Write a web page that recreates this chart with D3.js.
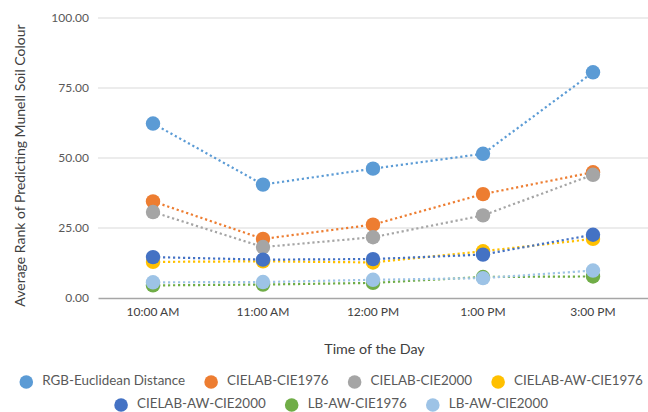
<!DOCTYPE html>
<html>
<head>
<meta charset="utf-8">
<script src="https://cdnjs.cloudflare.com/ajax/libs/d3/7.8.5/d3.min.js"></script>
<style>
  html, body { margin: 0; padding: 0; background: #fff; }
  svg { display: block; }
  text { font-family: Lato, "Open Sans", sans-serif; }
</style>
</head>
<body>
<svg id="chart" width="648" height="412"></svg>
<script>
// Times of day on the horizontal axis
const times = ["10:00 AM", "11:00 AM", "12:00 PM", "1:00 PM", "3:00 PM"];
const yTicks = [0, 25, 50, 75, 100];

// Average rank per colour-difference method
const seriesNames = [
  "RGB-Euclidean Distance", "CIELAB-CIE1976", "CIELAB-CIE2000",
  "CIELAB-AW-CIE1976", "CIELAB-AW-CIE2000", "LB-AW-CIE1976", "LB-AW-CIE2000"
];
const rgbEuclidean   = [62.3, 40.5, 46.2, 51.5, 80.6];
const cielab1976     = [34.5, 21.1, 26.2, 37.1, 44.9];
const cielab2000     = [30.7, 18.2, 21.7, 29.5, 44.0];
const cielabAw1976   = [12.9, 13.1, 12.7, 16.7, 21.1];
const cielabAw2000   = [14.6, 13.7, 13.9, 15.5, 22.6];
const lbAw1976       = [4.5, 4.8, 5.4, 7.5, 7.7];
const lbAw2000       = [5.6, 5.7, 6.5, 7.1, 9.8];
const seriesColors = ["#5B9BD5", "#ED7D31", "#A5A5A5", "#FFC000", "#4472C4", "#70AD47", "#9DC3E6"];

const seriesValues = [rgbEuclidean, cielab1976, cielab2000, cielabAw1976, cielabAw2000, lbAw1976, lbAw2000];
const series = seriesNames.map((name, i) => ({ name, color: seriesColors[i], values: seriesValues[i] }));

const svg = d3.select("#chart");
const plot = { left: 98, right: 648, top: 18, bottom: 298 };

const x = d3.scaleBand().domain(times).range([plot.left, plot.right]);
const y = d3.scaleLinear().domain([0, 100]).range([plot.bottom, plot.top]);

// Horizontal gridlines
svg.append("g")
  .selectAll("line")
  .data(yTicks.filter(d => d > 0))
  .join("line")
  .attr("x1", plot.left).attr("x2", plot.right)
  .attr("y1", d => y(d)).attr("y2", d => y(d))
  .attr("stroke", "#D9D9D9").attr("stroke-width", 1);

// Y axis labels
const yAxis = svg.append("g")
  .attr("transform", `translate(${plot.left - 6},0)`)
  .call(d3.axisLeft(y).tickValues(yTicks).tickFormat(d3.format(".2f")).tickSize(0));
yAxis.select(".domain").remove();
yAxis.selectAll("text")
  .attr("fill", "#595959").attr("font-size", 12).attr("dx", 0);

// X axis with baseline
const xAxis = svg.append("g")
  .attr("transform", `translate(0,${plot.bottom})`)
  .call(d3.axisBottom(x).tickSize(0).tickPadding(9));
xAxis.select(".domain").attr("stroke", "#A6A6A6").attr("stroke-width", 1.5);
xAxis.selectAll("text").attr("fill", "#404040").attr("font-size", 12);

// Axis titles
svg.append("text")
  .attr("transform", `translate(21,${165.5}) rotate(-90)`)
  .attr("text-anchor", "middle").attr("dominant-baseline", "middle")
  .attr("font-size", 14).attr("fill", "#404040")
  .text("Average Rank of Predicting Munell Soil Colour");

svg.append("text")
  .attr("x", 374.5).attr("y", 350)
  .attr("text-anchor", "middle").attr("dominant-baseline", "middle")
  .attr("font-size", 14.3).attr("fill", "#404040")
  .text("Time of the Day");

// Dotted lines with round markers
const cx = t => x(t) + x.bandwidth() / 2;
const line = d3.line().x((d, i) => cx(times[i])).y(d => y(d));

const gSeries = svg.append("g")
  .selectAll("g")
  .data(series)
  .join("g");

gSeries.append("path")
  .attr("d", d => line(d.values))
  .attr("fill", "none")
  .attr("stroke", d => d.color)
  .attr("stroke-width", 2.2)
  .attr("stroke-dasharray", "2.2 2.8");

gSeries.selectAll("circle")
  .data(d => d.values.map((v, i) => ({ v, t: times[i], color: d.color })))
  .join("circle")
  .attr("cx", d => cx(d.t))
  .attr("cy", d => y(d.v))
  .attr("r", 7.2)
  .attr("fill", d => d.color);

// Legend laid out in two centred rows
const legendRows = [series.slice(0, 4), series.slice(4)];
const rowY = [382, 405];
const legend = svg.append("g");
legendRows.forEach((row, r) => {
  const items = row.map(s => {
    const g = legend.append("g");
    g.append("circle").attr("r", 6.8).attr("cx", 0).attr("cy", 0).attr("fill", s.color);
    const t = g.append("text")
      .attr("x", 16).attr("y", 0)
      .attr("dominant-baseline", "middle")
      .attr("font-size", 13.4).attr("fill", "#595959")
      .text(s.name);
    return { g, w: 16 + t.node().getComputedTextLength() };
  });
  const gap = 26;
  const total = d3.sum(items, d => d.w) + gap * (items.length - 1) + 7;
  let pos = 331 - total / 2 + 7;
  items.forEach(it => {
    it.g.attr("transform", `translate(${pos},${rowY[r]})`);
    pos += it.w + gap;
  });
});
</script>
</body>
</html>
